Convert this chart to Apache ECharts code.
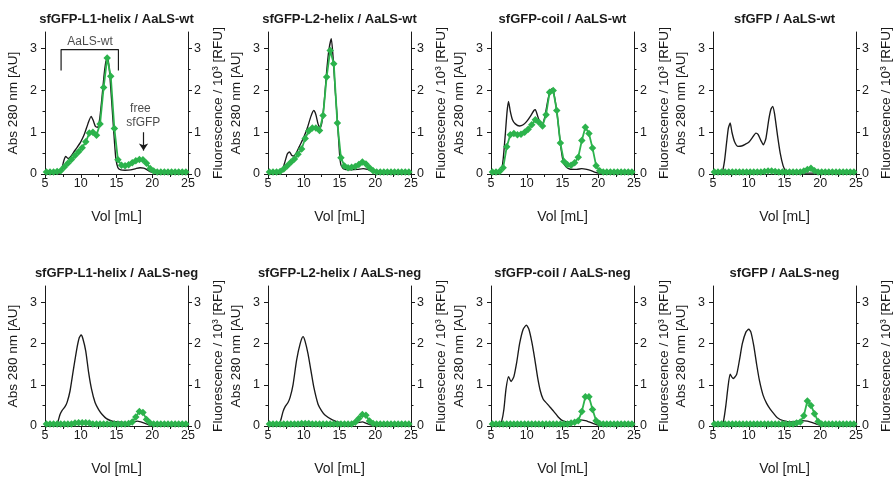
<!DOCTYPE html>
<html>
<head>
<meta charset="utf-8">
<script src="https://cdn.jsdelivr.net/npm/echarts@6/dist/echarts.min.js"></script>
<style>
  html, body { margin: 0; padding: 0; background: #fff; }
  #chart { width: 895px; height: 477px; }
</style>
</head>
<body>
<div id="chart"></div>
<script>
// Size-exclusion runs: absorbance trace (left axis) and fraction fluorescence (right axis)
const panelTitles = [
  'sfGFP-L1-helix / AaLS-wt', 'sfGFP-L2-helix / AaLS-wt', 'sfGFP-coil / AaLS-wt', 'sfGFP / AaLS-wt',
  'sfGFP-L1-helix / AaLS-neg', 'sfGFP-L2-helix / AaLS-neg', 'sfGFP-coil / AaLS-neg', 'sfGFP / AaLS-neg'
];
const volTicks = [5, 10, 15, 20, 25];
const signalTicks = [0, 1, 2, 3];
const signalMinorTicks = [0.5, 1.5, 2.5];

// Elution volume of each collected fraction [mL]
const fractionVol = [5.2, 5.7, 6.2, 6.7, 7.2, 7.7, 8.2, 8.7, 9.2, 9.7,
  10.2, 10.7, 11.2, 11.7, 12.2, 12.7, 13.2, 13.7, 14.2, 14.7,
  15.2, 15.7, 16.2, 16.7, 17.2, 17.7, 18.2, 18.7, 19.2, 19.7,
  20.2, 20.7, 21.2, 21.7, 22.2, 22.7, 23.2, 23.7, 24.2, 24.7];

// Absorbance at 280 nm, [volume, AU]
const wtL1Abs = [[5,0.02],[6,0.02],[7,0.02],[7.3,0.08],[7.6,0.3],[7.9,0.42],[8.25,0.37],[8.6,0.42],[9,0.52],[9.5,0.64],[10,0.77],[10.5,0.95],[11,1.2],[11.45,1.38],[11.75,1.28],[12.05,1.14],[12.35,1.12],[12.65,1.32],[12.95,1.8],[13.25,2.35],[13.5,2.68],[13.75,2.8],[14,2.5],[14.3,1.8],[14.6,1.05],[14.9,0.38],[15.2,0.15],[15.6,0.1],[16.2,0.09],[17,0.1],[17.7,0.13],[18.3,0.15],[18.8,0.14],[19.3,0.1],[19.8,0.05],[20.5,0.03],[22,0.02],[25,0.02]];
const wtL2Abs = [[5,0.02],[6.5,0.02],[6.9,0.05],[7.3,0.25],[7.7,0.48],[8,0.53],[8.3,0.45],[8.6,0.43],[9,0.52],[9.5,0.7],[10,0.88],[10.5,1.1],[11,1.38],[11.4,1.52],[11.7,1.42],[12,1.2],[12.3,1.1],[12.6,1.3],[12.9,1.8],[13.2,2.45],[13.5,2.95],[13.85,3.24],[14.1,2.8],[14.4,2.0],[14.7,1.3],[15,0.5],[15.2,0.22],[15.6,0.12],[16.5,0.1],[17.5,0.11],[18.3,0.13],[18.9,0.11],[19.5,0.07],[20.3,0.03],[22,0.02],[25,0.02]];
const wtCoilAbs = [[5,0.02],[6,0.02],[6.4,0.05],[6.7,0.35],[7,0.95],[7.25,1.5],[7.45,1.74],[7.7,1.5],[8,1.3],[8.4,1.2],[9,1.15],[9.5,1.18],[10,1.26],[10.5,1.38],[11,1.52],[11.2,1.54],[11.5,1.4],[11.8,1.25],[12.1,1.18],[12.5,1.35],[12.9,1.72],[13.2,1.95],[13.5,2.04],[13.8,1.92],[14.2,1.5],[14.5,1.05],[14.8,0.6],[15.1,0.3],[15.5,0.17],[16,0.12],[17,0.11],[17.7,0.13],[18.4,0.11],[19,0.08],[19.6,0.04],[20.2,0.02],[25,0.02]];
const wtFreeAbs = [[5,0.02],[6,0.02],[6.3,0.05],[6.6,0.3],[6.9,0.75],[7.15,1.1],[7.4,1.22],[7.65,1.0],[8,0.78],[8.5,0.66],[9,0.67],[9.5,0.71],[10,0.76],[10.5,0.87],[11,0.98],[11.3,0.95],[11.7,0.8],[12.05,0.7],[12.4,0.85],[12.8,1.3],[13.1,1.55],[13.35,1.62],[13.6,1.45],[14,0.95],[14.4,0.5],[14.8,0.2],[15.2,0.06],[15.6,0.02],[25,0.02]];
const negL1Abs = [[5,0.02],[6.5,0.02],[6.8,0.1],[7.1,0.28],[7.4,0.38],[7.8,0.47],[8.1,0.58],[8.5,0.85],[9,1.4],[9.5,1.92],[9.8,2.15],[10.05,2.21],[10.3,2.12],[10.7,1.82],[11.1,1.3],[11.5,0.9],[12,0.57],[12.5,0.4],[13,0.28],[13.6,0.18],[14.4,0.12],[15.5,0.09],[16.5,0.08],[17.3,0.1],[17.9,0.12],[18.4,0.1],[18.9,0.07],[19.5,0.03],[20,0.02],[25,0.02]];
const negL2Abs = [[5,0.02],[6.5,0.02],[6.8,0.15],[7.1,0.35],[7.4,0.47],[7.8,0.57],[8.1,0.7],[8.5,1.0],[9,1.6],[9.5,2.0],[9.9,2.17],[10.2,2.05],[10.6,1.75],[11,1.35],[11.4,0.95],[12,0.53],[12.5,0.37],[13,0.26],[14,0.15],[15.2,0.08],[16.5,0.06],[17.5,0.08],[18.2,0.1],[18.7,0.07],[19.3,0.03],[20,0.02],[25,0.02]];
const negCoilAbs = [[5,0.02],[6.2,0.02],[6.5,0.12],[6.8,0.4],[7.1,0.9],[7.45,1.2],[7.8,1.08],[8.2,1.2],[8.6,1.55],[9,2.0],[9.5,2.35],[9.95,2.45],[10.3,2.35],[10.7,2.05],[11.1,1.65],[11.5,1.2],[11.9,0.85],[12.3,0.65],[12.8,0.55],[13.3,0.45],[13.8,0.35],[14.4,0.22],[15,0.13],[15.6,0.1],[16.5,0.1],[17.5,0.15],[18.2,0.13],[18.7,0.1],[19.3,0.06],[19.8,0.03],[20.3,0.02],[25,0.02]];
const negFreeAbs = [[5,0.02],[6.2,0.02],[6.5,0.15],[6.8,0.5],[7.1,0.95],[7.4,1.26],[7.8,1.15],[8.3,1.25],[8.7,1.6],[9.1,2.0],[9.6,2.28],[10,2.35],[10.3,2.28],[10.7,1.95],[11.1,1.5],[11.5,1.1],[12,0.75],[12.5,0.55],[13,0.41],[13.5,0.3],[14,0.2],[14.8,0.13],[16,0.1],[17,0.12],[17.5,0.13],[18.2,0.12],[18.8,0.09],[19.4,0.05],[20,0.02],[25,0.02]];

// Fluorescence of each fraction, 10^3 RFU
const wtL1Fluor = [0.05,0.05,0.05,0.06,0.08,0.17,0.26,0.35,0.44,0.53,0.63,0.77,0.98,1.0,0.93,1.2,2.07,2.78,2.34,1.09,0.34,0.21,0.2,0.22,0.27,0.32,0.35,0.34,0.26,0.13,0.07,0.05,0.05,0.05,0.05,0.05,0.05,0.05,0.05,0.05];
const wtL2Fluor = [0.05,0.05,0.05,0.06,0.12,0.2,0.28,0.36,0.47,0.6,0.85,1.03,1.1,1.1,1.04,1.4,2.32,2.96,2.64,1.22,0.39,0.19,0.15,0.16,0.18,0.23,0.29,0.24,0.15,0.08,0.05,0.05,0.05,0.05,0.05,0.05,0.05,0.05,0.05,0.05];
const wtCoilFluor = [0.05,0.05,0.06,0.15,0.65,0.94,0.97,0.94,0.95,1.0,1.07,1.18,1.3,1.24,1.15,1.42,1.96,2.0,1.52,0.74,0.3,0.22,0.21,0.27,0.4,0.8,1.12,0.97,0.62,0.2,0.08,0.05,0.05,0.05,0.05,0.05,0.05,0.05,0.05,0.05];
const wtFreeFluor = [0.05,0.05,0.05,0.05,0.05,0.05,0.05,0.05,0.05,0.05,0.05,0.05,0.05,0.05,0.06,0.07,0.07,0.06,0.05,0.05,0.05,0.05,0.05,0.05,0.05,0.07,0.11,0.14,0.08,0.05,0.05,0.05,0.05,0.05,0.05,0.05,0.05,0.05,0.05,0.05];
const negL1Fluor = [0.05,0.05,0.05,0.05,0.05,0.05,0.05,0.05,0.07,0.08,0.08,0.08,0.07,0.05,0.05,0.05,0.05,0.05,0.05,0.05,0.05,0.05,0.05,0.06,0.1,0.22,0.35,0.33,0.16,0.07,0.05,0.05,0.05,0.05,0.05,0.05,0.05,0.05,0.05,0.05];
const negL2Fluor = [0.05,0.05,0.05,0.05,0.05,0.05,0.05,0.05,0.05,0.06,0.06,0.06,0.05,0.05,0.05,0.05,0.05,0.05,0.05,0.05,0.05,0.05,0.05,0.05,0.09,0.18,0.28,0.26,0.12,0.06,0.05,0.05,0.05,0.05,0.05,0.05,0.05,0.05,0.05,0.05];
const negCoilFluor = [0.05,0.05,0.05,0.05,0.05,0.05,0.05,0.05,0.05,0.05,0.05,0.05,0.05,0.05,0.05,0.05,0.05,0.05,0.05,0.05,0.05,0.05,0.07,0.09,0.13,0.35,0.71,0.71,0.4,0.13,0.06,0.05,0.05,0.05,0.05,0.05,0.05,0.05,0.05,0.05];
const negFreeFluor = [0.05,0.05,0.05,0.05,0.05,0.05,0.05,0.05,0.05,0.05,0.05,0.05,0.05,0.05,0.05,0.05,0.05,0.05,0.05,0.05,0.05,0.05,0.05,0.07,0.1,0.25,0.61,0.5,0.3,0.11,0.05,0.05,0.05,0.05,0.05,0.05,0.05,0.05,0.05,0.05];

const absTraces = [wtL1Abs, wtL2Abs, wtCoilAbs, wtFreeAbs, negL1Abs, negL2Abs, negCoilAbs, negFreeAbs];
const fluorTraces = [wtL1Fluor, wtL2Fluor, wtCoilFluor, wtFreeFluor, negL1Fluor, negL2Fluor, negCoilFluor, negFreeFluor];

// Annotations in the first panel (volume, value)
const cageBracket = [[7.25, 2.48], [7.25, 2.98], [15.27, 2.98], [15.27, 2.48]];
const cageLabel = { text: 'AaLS-wt', at: [11.3, 3.17] };
const freeLabels = [{ text: 'free', at: [18.35, 1.57] }, { text: 'sfGFP', at: [18.75, 1.23] }];
const freeArrow = { vol: 18.78, from: 1.0, to: 0.56 };

const FONT = '"Liberation Sans", Arial, sans-serif';
const INK = '#1a1a1a';
const GREEN = '#2cb34c';

const colLeft = [45, 268, 491, 713];
const rowTop = [32, 286];
const rowHeight = [142, 143];
const plotWidth = 143;

const grids = [], xAxes = [], yAxes = [], titles = [], series = [];

panelTitles.forEach((name, p) => {
  const row = p < 4 ? 0 : 1, col = p % 4;
  const left = colLeft[col], top = rowTop[row], height = rowHeight[row];
  grids.push({ left, top, width: plotWidth, height, containLabel: false });
  titles.push({
    text: name, left: left + plotWidth / 2, top: top - 19, textAlign: 'center', padding: 0,
    textStyle: { fontFamily: FONT, fontSize: 13, fontWeight: 'bold', color: INK }
  });
  xAxes.push({
    gridIndex: p, type: 'value', min: 5, max: 25, interval: 5,
    name: 'Vol [mL]', nameLocation: 'middle', nameGap: 36,
    nameTextStyle: { fontFamily: FONT, fontSize: 14, color: INK },
    axisLine: { show: true, onZero: false, lineStyle: { color: INK, width: 1 } },
    axisTick: { show: true, inside: false, length: 4, lineStyle: { color: INK } },
    minorTick: { show: true, splitNumber: 2, length: 3, lineStyle: { color: INK } },
    axisLabel: { margin: 3, fontFamily: FONT, fontSize: 12.5, color: INK, customValues: volTicks },
    splitLine: { show: false }, minorSplitLine: { show: false }
  });
  const baseY = {
    gridIndex: p, type: 'value', min: 0, max: 3.4, interval: 1,
    splitLine: { show: false }
  };
  // main left axis
  yAxes.push(Object.assign({}, baseY, {
    position: 'left', name: 'Abs 280 nm [AU]', nameLocation: 'middle', nameGap: 25, nameRotate: 90,
    nameTextStyle: { fontFamily: FONT, fontSize: 13.6, color: INK },
    axisLine: { show: true, onZero: false, lineStyle: { color: INK, width: 1 } },
    axisTick: { show: true, length: 4, customValues: signalTicks, lineStyle: { color: INK } },
    axisLabel: { margin: 8, fontFamily: FONT, fontSize: 12.5, color: INK, customValues: signalTicks }
  }));
  // main right axis
  yAxes.push(Object.assign({}, baseY, {
    position: 'right', name: 'Fluorescence / 10³ [RFU]', nameLocation: 'middle', nameGap: 23, nameRotate: 90,
    nameTextStyle: { fontFamily: FONT, fontSize: 13.6, color: INK },
    axisLine: { show: true, onZero: false, lineStyle: { color: INK, width: 1 } },
    axisTick: { show: true, length: 4, customValues: signalTicks, lineStyle: { color: INK } },
    axisLabel: { margin: 6, fontFamily: FONT, fontSize: 12.5, color: INK, customValues: signalTicks }
  }));
  // minor ticks on both sides
  ['left', 'right'].forEach(pos => {
    yAxes.push(Object.assign({}, baseY, {
      position: pos,
      axisLine: { show: false },
      axisLabel: { show: false },
      axisTick: { show: true, length: 2.5, customValues: signalMinorTicks, lineStyle: { color: INK } }
    }));
  });

  series.push({
    type: 'line', xAxisIndex: p, yAxisIndex: 4 * p, data: absTraces[p],
    symbol: 'none', smooth: 0.2, z: 2,
    lineStyle: { color: INK, width: 1.35 }
  });
  series.push({
    type: 'line', xAxisIndex: p, yAxisIndex: 4 * p + 1,
    data: fractionVol.map((v, i) => [v, fluorTraces[p][i]]),
    symbol: 'diamond', symbolSize: 7.5, z: 3,
    itemStyle: { color: GREEN },
    lineStyle: { color: GREEN, width: 1.8 }
  });
});

// Bracket over the cage peak with the free-protein arrow
series.push({
  type: 'line', xAxisIndex: 0, yAxisIndex: 0, data: cageBracket, symbol: 'none', z: 4,
  lineStyle: { color: INK, width: 1.2 },
  markLine: {
    silent: true, symbol: ['none', 'arrow'], symbolSize: 7,
    lineStyle: { color: INK, width: 1.2, type: 'solid' },
    label: { show: false },
    data: [[{ coord: [freeArrow.vol, freeArrow.from] }, { coord: [freeArrow.vol, freeArrow.to] }]]
  }
});
series.push({
  type: 'scatter', xAxisIndex: 0, yAxisIndex: 0, symbolSize: 1, z: 5,
  itemStyle: { color: 'rgba(0,0,0,0)' },
  label: { show: true, position: 'inside', formatter: d => d.name, fontFamily: FONT, fontSize: 12, color: INK },
  data: [cageLabel].concat(freeLabels).map(a => ({ name: a.text, value: a.at }))
});

const chart = echarts.init(document.getElementById('chart'), null, { renderer: 'canvas' });
chart.setOption({
  animation: false,
  backgroundColor: '#fff',
  title: titles,
  grid: grids,
  xAxis: xAxes,
  yAxis: yAxes,
  series
});
</script>
</body>
</html>
